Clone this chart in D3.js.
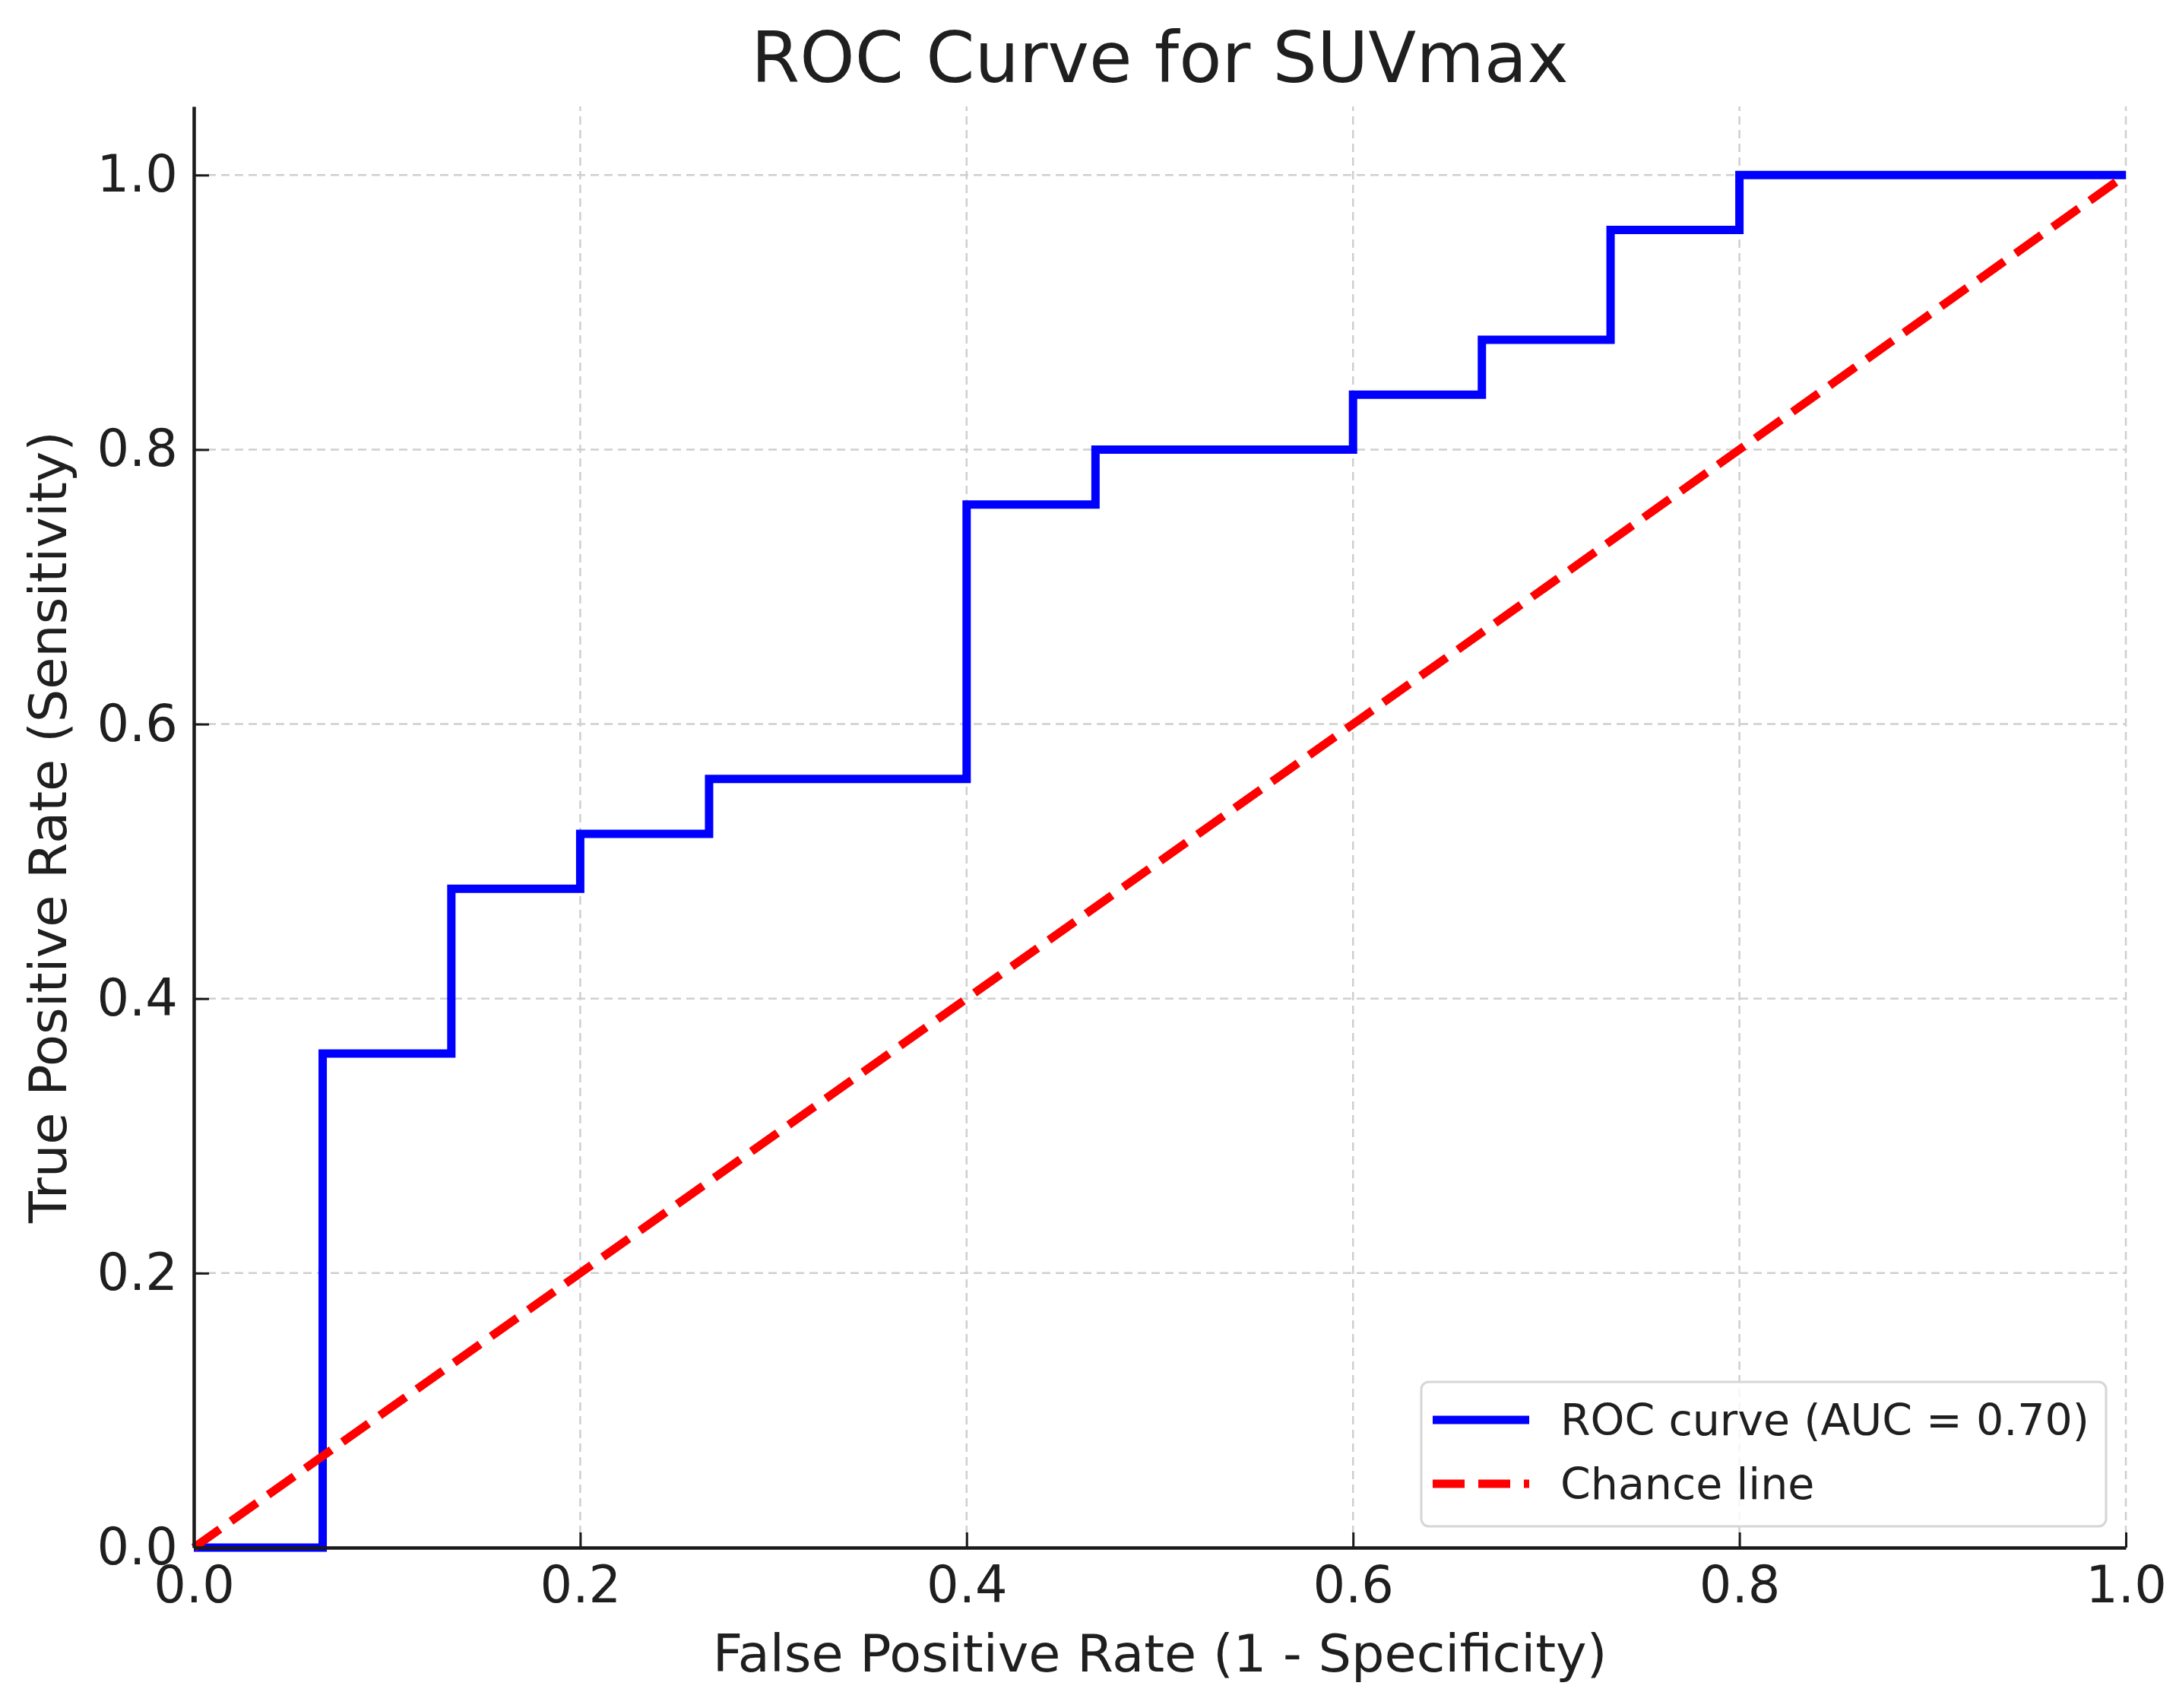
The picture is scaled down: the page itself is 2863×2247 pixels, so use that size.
<!DOCTYPE html>
<html>
<head>
<meta charset="utf-8">
<script src="https://cdn.jsdelivr.net/npm/d3@7"></script>
<style>
  body { margin: 0; background: #fff; }
  text { font-family: "DejaVu Sans", sans-serif; fill: #1f1f1f; }
</style>
</head>
<body>
<div id="chart"></div>
<script>
// ROC steps
const fpr = [0, 0.0667, 0.0667, 0.1333, 0.1333, 0.2, 0.2, 0.2667, 0.2667, 0.4, 0.4,
             0.4667, 0.4667, 0.6, 0.6, 0.6667, 0.6667, 0.7333, 0.7333, 0.8, 0.8, 1.0];
const tpr = [0, 0, 0.36, 0.36, 0.48, 0.48, 0.52, 0.52, 0.56, 0.56, 0.76,
             0.76, 0.80, 0.80, 0.84, 0.84, 0.88, 0.88, 0.96, 0.96, 1.0, 1.0];
const chanceX = [0, 1];
const chanceY = [0, 1];
const xTicks = [0, 0.2, 0.4, 0.6, 0.8, 1.0];
const yTicks = [0, 0.2, 0.4, 0.6, 0.8, 1.0];
const legendLabels = ["ROC curve (AUC = 0.70)", "Chance line"];

const width = 2863, height = 2247;
const margin = {left: 255, right: 66, top: 140, bottom: 211};

const svg = d3.select("#chart").append("svg")
    .attr("width", width)
    .attr("height", height);

const x = d3.scaleLinear().domain([0, 1]).range([margin.left, width - margin.right]);
const y = d3.scaleLinear().domain([0, 1.05]).range([height - margin.bottom, margin.top]);

// grid
const grid = svg.append("g");
grid.selectAll(".gx").data(xTicks.slice(1)).enter().append("line")
    .attr("x1", d => x(d)).attr("x2", d => x(d))
    .attr("y1", y(0)).attr("y2", y(1.05))
    .attr("stroke", "#cfcfcf").attr("stroke-width", 2.5)
    .attr("stroke-dasharray", "11,7");
grid.selectAll(".gy").data(yTicks.slice(1)).enter().append("line")
    .attr("y1", d => y(d)).attr("y2", d => y(d))
    .attr("x1", x(0)).attr("x2", x(1))
    .attr("stroke", "#cfcfcf").attr("stroke-width", 2.5)
    .attr("stroke-dasharray", "11,7");

// lines
const line = d3.line().x(d => x(d[0])).y(d => y(d[1]));
svg.append("path")
    .attr("d", line(fpr.map((v, i) => [v, tpr[i]])))
    .attr("fill", "none").attr("stroke", "#0000ff").attr("stroke-width", 11)
    .attr("stroke-linejoin", "miter");
svg.append("path")
    .attr("d", line(chanceX.map((v, i) => [v, chanceY[i]])))
    .attr("fill", "none").attr("stroke", "#ff0000").attr("stroke-width", 11)
    .attr("stroke-dasharray", "42,18");

// axes
const xAxis = svg.append("g")
    .attr("transform", `translate(0,${y(0)})`)
    .call(d3.axisBottom(x).tickValues(xTicks).tickFormat(d3.format(".1f"))
        .tickSizeInner(-20).tickSizeOuter(0).tickPadding(24));
const yAxis = svg.append("g")
    .attr("transform", `translate(${x(0)},0)`)
    .call(d3.axisLeft(y).tickValues(yTicks).tickFormat(d3.format(".1f"))
        .tickSizeInner(-20).tickSizeOuter(0).tickPadding(21));

[xAxis, yAxis].forEach(a => {
    a.select(".domain").attr("stroke", "#1a1a1a").attr("stroke-width", 4.5);
    a.selectAll(".tick line").attr("stroke", "#1a1a1a").attr("stroke-width", 3);
    a.selectAll(".tick text").attr("font-size", 67).attr("fill", "#1f1f1f")
        .attr("font-family", "DejaVu Sans");
});

// title and labels
svg.append("text")
    .attr("x", (x(0) + x(1)) / 2).attr("y", 108)
    .attr("text-anchor", "middle").attr("font-size", 92)
    .text("ROC Curve for SUVmax");
svg.append("text")
    .attr("x", (x(0) + x(1)) / 2).attr("y", 2199)
    .attr("text-anchor", "middle").attr("font-size", 68.5)
    .text("False Positive Rate (1 - Specificity)");
svg.append("text")
    .attr("transform", `translate(87,${(y(0) + y(1.05)) / 2}) rotate(-90)`)
    .attr("text-anchor", "middle").attr("font-size", 68.5)
    .text("True Positive Rate (Sensitivity)");

// legend
const legend = svg.append("g").attr("transform", "translate(1870,1818)");
legend.append("rect")
    .attr("width", 901).attr("height", 190).attr("rx", 10)
    .attr("fill", "#fff").attr("fill-opacity", 0.8)
    .attr("stroke", "#d6d6d6").attr("stroke-width", 3);
const styles = [{c: "#0000ff", dash: null}, {c: "#ff0000", dash: "42,18"}];
legendLabels.forEach((lab, i) => {
    const cy = 50 + i * 84;
    legend.append("line")
        .attr("x1", 15).attr("x2", 142).attr("y1", cy).attr("y2", cy)
        .attr("stroke", styles[i].c).attr("stroke-width", 11)
        .attr("stroke-dasharray", styles[i].dash);
    legend.append("text")
        .attr("x", 183).attr("y", cy + 20)
        .attr("font-size", 57)
        .text(lab);
});
</script>
</body>
</html>
